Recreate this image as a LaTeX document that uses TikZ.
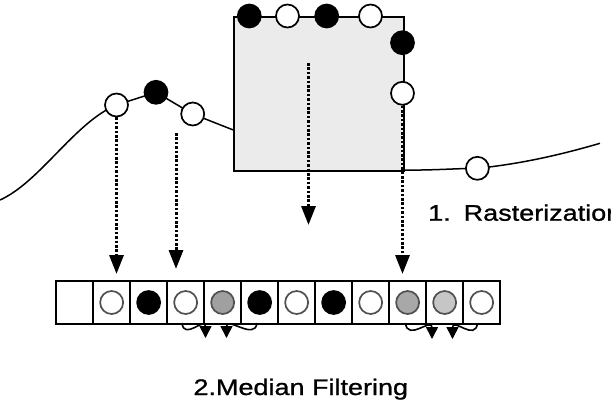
\documentclass[tikz,border=0pt]{standalone}
\usepackage{fontspec}
\newfontfamily\labfont[FakeStretch=1.2,FakeBold=1.0]{Liberation Sans}
\usetikzlibrary{arrows.meta}
\definecolor{boxgray}{HTML}{EBEBEB}
\definecolor{midgray}{HTML}{A0A0A0}
\definecolor{midgrayb}{HTML}{A8A8A8}
\definecolor{lightgray}{HTML}{C6C6C6}
\definecolor{rimgray}{HTML}{505050}
\begin{document}
\begin{tikzpicture}[x=1pt,y=-1pt,
  pt/.style={circle,draw=black,line width=1.7pt,minimum size=23pt,inner sep=0pt},
  wpt/.style={pt,fill=white},
  bpt/.style={pt,fill=black},
  cell/.style={draw=black,line width=2.3pt,minimum width=37pt,minimum height=42.7pt,inner sep=0pt,anchor=north west},
  cpt/.style={circle,draw=rimgray,line width=1.7pt,minimum size=23pt,inner sep=0pt},
  cw/.style={cpt,fill=white},
  cb/.style={cpt,draw=black,fill=black},
  proj/.style={line width=3pt,dash pattern=on 2.6pt off 1.8pt,-{Triangle[length=19pt,width=14pt]}},
  med/.style={line width=1.6pt,-{Triangle[length=12pt,width=12pt]}},
  lab/.style={font=\labfont\fontsize{22.5}{27}\selectfont,anchor=base west,inner sep=0pt}
]
\useasboundingbox (0,0) rectangle (611,408);
% gray box
\node[draw=black,line width=1.9pt,fill=boxgray,minimum width=169.7pt,minimum height=154pt,inner sep=0pt,anchor=north west] (box) at (233,16) {};
% curve
\draw[line width=1.5pt] (0,200) .. controls (40,182) and (75,122) .. (116.5,105) -- (156,92.3) -- (192.7,114) -- (233.3,130);
\draw[line width=1.5pt] (402.7,170) .. controls (430,170.5) and (455,168.5) .. (477.4,168.3) .. controls (520,164) and (560,155) .. (600,143.3);
% points on curve
\node[wpt] (p1) at (116.5,105) {};
\node[bpt] (p2) at (156,92.3) {};
\node[wpt] (p3) at (192.7,114) {};
\node[bpt] (t1) at (249.3,16) {};
\node[wpt] (t2) at (287.5,16) {};
\node[bpt] (t3) at (326.7,16) {};
\node[wpt] (t4) at (370.5,16) {};
\node[bpt] (q1) at (402.5,42.7) {};
\node[wpt] (q2) at (402.5,93.3) {};
\node[wpt] (r1) at (477.4,168.3) {};
% raster cells
\foreach \i in {1,...,12}
  \node[cell] (c\i) at ({55+37*(\i-1)},280) {};
\node[cw] (d2) at (c2.center) {};
\node[cb] (d3) at (c3.center) {};
\node[cw] (d4) at (c4.center) {};
\node[cpt,fill=midgray] (d5) at (c5.center) {};
\node[cb] (d6) at (c6.center) {};
\node[cw] (d7) at (c7.center) {};
\node[cb] (d8) at (c8.center) {};
\node[cw] (d9) at (c9.center) {};
\node[cpt,fill=midgrayb] (d10) at (c10.center) {};
\node[cpt,fill=lightgray] (d11) at (c11.center) {};
\node[cw] (d12) at (c12.center) {};
% projection arrows
\coordinate (e1) at (116.5,274);
\coordinate (s2) at (176,133);
\coordinate (e2) at (176,269);
\coordinate (s3) at (308.5,63);
\coordinate (e3) at (308.5,225);
\coordinate (e4) at (402.5,274);
\draw[proj] (p1.south) -- (e1);
\draw[proj] (s2) -- (e2);
\draw[proj] (s3) -- (e3);
\draw[proj] (q2.south) -- (e4);
% median filtering arrows
\coordinate (m1) at (182,323);
\coordinate (m2) at (257,323);
\coordinate (m3) at (405.5,323);
\coordinate (m4) at (477.5,323);
\coordinate (n1) at (205.5,338);
\coordinate (n2) at (226.5,338);
\coordinate (n3) at (432,339);
\coordinate (n4) at (452.5,339);
\draw[med] (m1) .. controls (184,341) and (205.5,316) .. (n1);
\draw[med] (m2) .. controls (255,341) and (226.5,316) .. (n2);
\draw[med] (m3) .. controls (407.5,342) and (432,317) .. (n3);
\draw[med] (m4) .. controls (475.5,342) and (452.5,317) .. (n4);
% labels
\node[lab] (l1) at (428,220.7) {1.\hspace{13pt}Rasterization};
\node[lab] (l2) at (193.3,395) {2.Median Filtering};
\end{tikzpicture}
\end{document}
